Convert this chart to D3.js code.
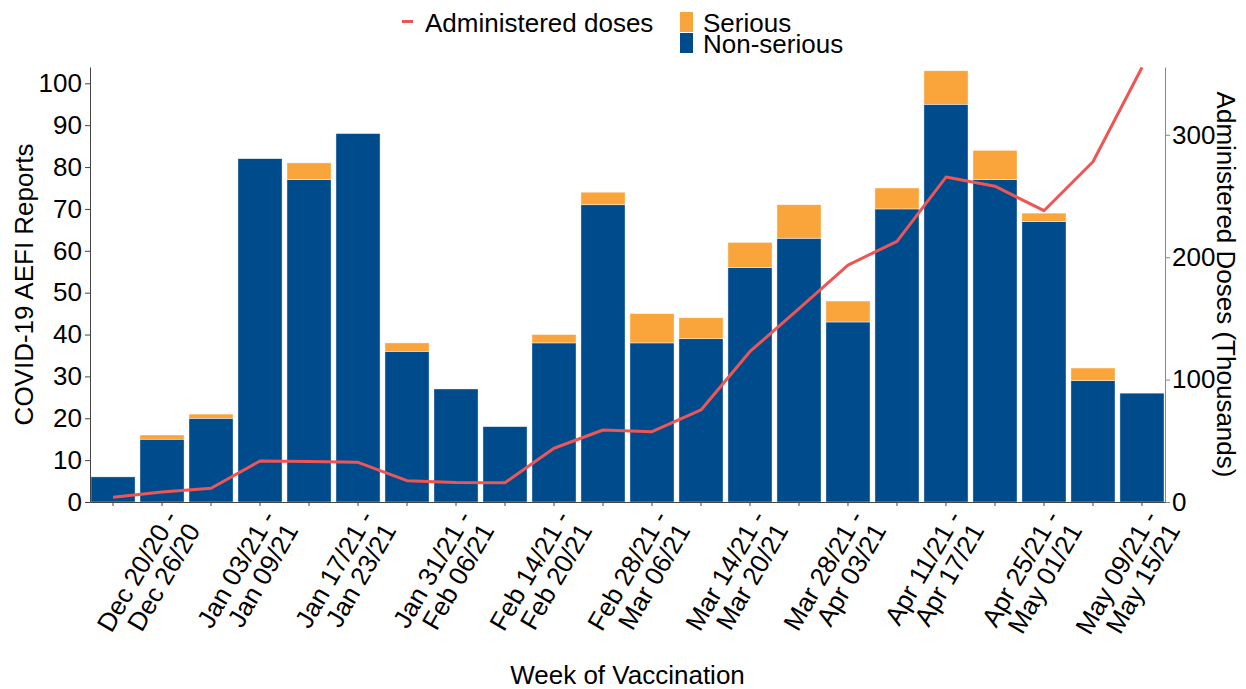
<!DOCTYPE html>
<html>
<head>
<meta charset="utf-8">
<script src="https://cdn.jsdelivr.net/npm/d3@7/dist/d3.min.js"></script>
<style>
  html, body { margin: 0; padding: 0; background: #fff; }
  svg text { font-family: "Liberation Sans", Arial, sans-serif; fill: #000; }
</style>
</head>
<body>
<svg id="chart" width="1246" height="689"></svg>
<script>
const weeks = [
  "Dec 13/20 - Dec 19/20", "Dec 20/20 - Dec 26/20", "Dec 27/20 - Jan 02/21",
  "Jan 03/21 - Jan 09/21", "Jan 10/21 - Jan 16/21", "Jan 17/21 - Jan 23/21",
  "Jan 24/21 - Jan 30/21", "Jan 31/21 - Feb 06/21", "Feb 07/21 - Feb 13/21",
  "Feb 14/21 - Feb 20/21", "Feb 21/21 - Feb 27/21", "Feb 28/21 - Mar 06/21",
  "Mar 07/21 - Mar 13/21", "Mar 14/21 - Mar 20/21", "Mar 21/21 - Mar 27/21",
  "Mar 28/21 - Apr 03/21", "Apr 04/21 - Apr 10/21", "Apr 11/21 - Apr 17/21",
  "Apr 18/21 - Apr 24/21", "Apr 25/21 - May 01/21", "May 02/21 - May 08/21",
  "May 09/21 - May 15/21"
];
const labelledWeeks = [
  "Dec 20/20 - Dec 26/20", "Jan 03/21 - Jan 09/21", "Jan 17/21 - Jan 23/21",
  "Jan 31/21 - Feb 06/21", "Feb 14/21 - Feb 20/21", "Feb 28/21 - Mar 06/21",
  "Mar 14/21 - Mar 20/21", "Mar 28/21 - Apr 03/21", "Apr 11/21 - Apr 17/21",
  "Apr 25/21 - May 01/21", "May 09/21 - May 15/21"
];
const nonSerious = [6, 15, 20, 82, 77, 88, 36, 27, 18, 38, 71, 38, 39, 56, 63, 43, 70, 95, 77, 67, 29, 26];
const serious    = [0, 1, 1, 0, 4, 0, 2, 0, 0, 2, 3, 7, 5, 6, 8, 5, 5, 8, 7, 2, 3, 0];
const dosesThousands = [3.8, 8.2, 11.2, 33.5, 33, 32.4, 17.4, 16, 15.8, 43.9, 58.8, 57.4, 75.2, 123, 158, 193.6, 213, 265.5, 258, 238, 278, 355];
const leftTicks = [0, 10, 20, 30, 40, 50, 60, 70, 80, 90, 100];
const rightTicks = [0, 100, 200, 300];

const colNon = "#004B8C", colSer = "#F9A53B", colLine = "#EE5656";
const svg = d3.select("#chart");
const L = 90, R = 1165, T = 67, B = 502;

const x = d3.scaleBand().domain(weeks).range([L, R]).paddingInner(0.1).paddingOuter(0.02);
const y = d3.scaleLinear().domain([0, 103.9]).range([B, T]);
const y2 = d3.scaleLinear().domain([0, 355.4]).range([B, T]);

const rows = weeks.map((w, i) => ({ week: w, nonSerious: nonSerious[i], serious: serious[i] }));
const stack = d3.stack().keys(["nonSerious", "serious"])(rows);
const colors = { nonSerious: colNon, serious: colSer };

svg.append("g").selectAll("g").data(stack).join("g")
  .attr("fill", d => colors[d.key])
  .selectAll("rect").data(d => d.filter(p => p[1] > p[0])).join("rect")
  .attr("x", d => x(d.data.week))
  .attr("width", x.bandwidth())
  .attr("y", d => y(d[1]))
  .attr("height", d => y(d[0]) - y(d[1]))
  .attr("stroke", "#ffffff").attr("stroke-opacity", 0.7).attr("stroke-width", 0.6);

// line
const line = d3.line().x((d, i) => x(weeks[i]) + x.bandwidth() / 2).y(d => y2(d));
svg.append("path").datum(dosesThousands)
  .attr("d", line).attr("fill", "none").attr("stroke", colLine)
  .attr("stroke-width", 3).attr("stroke-linejoin", "round");

// axes
const fs = "26px";
const gl = svg.append("g").attr("transform", `translate(${L},0)`)
  .call(d3.axisLeft(y).tickValues(leftTicks).tickSize(5).tickSizeOuter(0).tickPadding(3));
gl.selectAll("text").style("font-size", fs).attr("fill", "#000");
gl.selectAll("path,line").attr("stroke", "#444");

const gr = svg.append("g").attr("transform", `translate(${R},0)`)
  .call(d3.axisRight(y2).tickValues(rightTicks).tickSize(5).tickSizeOuter(0).tickPadding(2));
gr.selectAll("text").style("font-size", fs).attr("fill", "#000");
gr.selectAll("path,line").attr("stroke", "#888");

const gb = svg.append("g").attr("transform", `translate(0,${B})`)
  .call(d3.axisBottom(x).tickSize(4).tickSizeOuter(0).tickFormat(""));
gb.selectAll("path,line").attr("stroke", "#444");

// rotated two-line tick labels
labelledWeeks.forEach(w => {
  const parts = w.split(" - ");
  const cx = x(w) + x.bandwidth() / 2;
  const t = svg.append("text")
    .attr("transform", `translate(${cx},${B}) rotate(-60)`)
    .attr("text-anchor", "end").style("font-size", fs);
  t.append("tspan").attr("x", -5).attr("y", 22).text(parts[0] + " -");
  t.append("tspan").attr("x", -5).attr("y", 48).text(parts[1]);
});

// axis titles
svg.append("text").attr("x", (L + R) / 2).attr("y", 684).attr("text-anchor", "middle")
  .style("font-size", fs).text("Week of Vaccination");
svg.append("text").attr("transform", `translate(33,${(T + B) / 2}) rotate(-90)`)
  .attr("text-anchor", "middle").style("font-size", fs).text("COVID-19 AEFI Reports");
svg.append("text").attr("transform", `translate(1217,${(T + B) / 2}) rotate(90)`)
  .attr("text-anchor", "middle").style("font-size", fs).text("Administered Doses (Thousands)");

// legend
const lg = svg.append("g");
lg.append("line").attr("x1", 402).attr("x2", 413).attr("y1", 21.5).attr("y2", 21.5)
  .attr("stroke", colLine).attr("stroke-width", 3);
lg.append("text").attr("x", 425).attr("y", 32).style("font-size", fs).text("Administered doses");
lg.append("rect").attr("x", 680).attr("y", 12).attr("width", 13).attr("height", 20).attr("fill", colSer);
lg.append("rect").attr("x", 680).attr("y", 33).attr("width", 13).attr("height", 20).attr("fill", colNon);
lg.append("text").attr("x", 703).attr("y", 32).style("font-size", fs).text("Serious");
lg.append("text").attr("x", 703).attr("y", 53).style("font-size", fs).text("Non-serious");
</script>
</body>
</html>
